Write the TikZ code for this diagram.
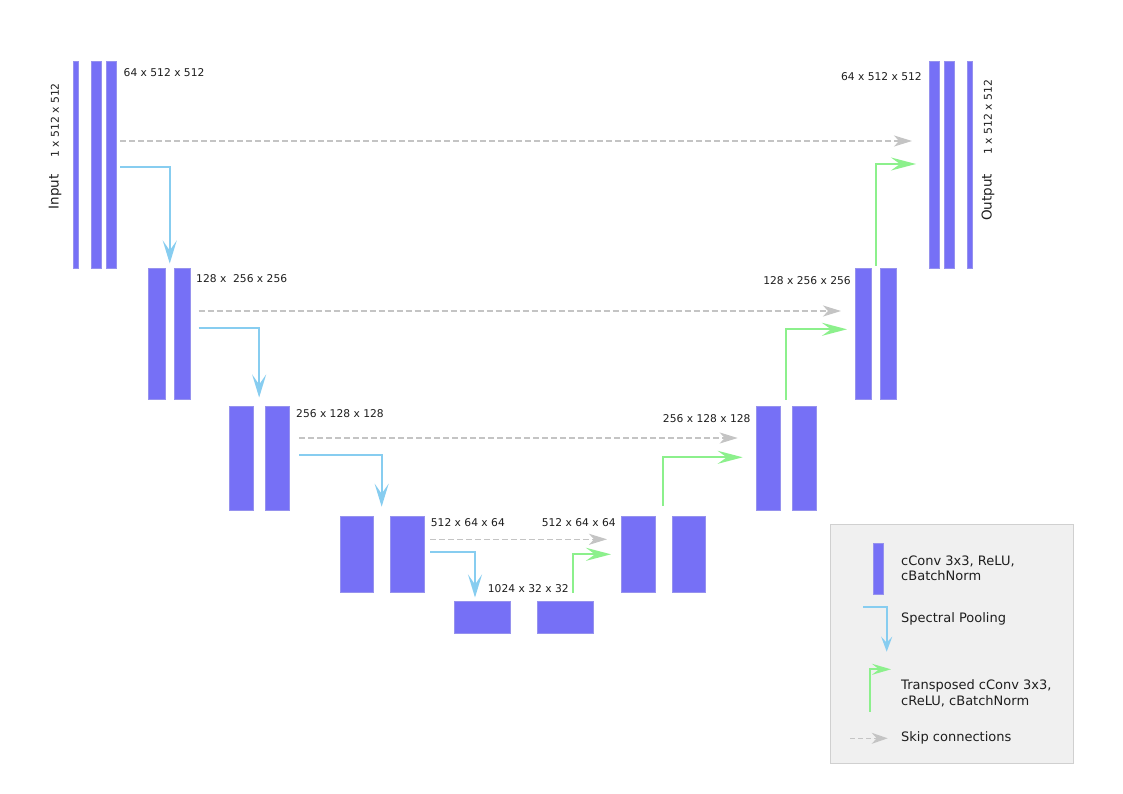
\documentclass[tikz,border=0pt]{standalone}
\usepackage{fontspec}
\setmainfont{DejaVu Sans}
\usetikzlibrary{arrows.meta,calc}
\definecolor{barc}{RGB}{118,112,246}
\definecolor{barline}{RGB}{150,146,238}
\definecolor{poolc}{RGB}{135,205,240}
\definecolor{upc}{RGB}{140,240,140}
\definecolor{skipc}{RGB}{196,196,196}
\definecolor{legfill}{RGB}{240,240,240}
\definecolor{legline}{RGB}{208,208,208}
\definecolor{txt}{RGB}{30,30,30}
\begin{document}
\begin{tikzpicture}[x=1pt,y=-1pt,
  bar/.style={fill=barc, draw=barline, line width=0.4pt, inner sep=0pt, outer sep=0pt},
  dimlabel/.style={font=\fontsize{10.7}{13}\selectfont, inner sep=0pt, text=txt},
  sidelabel/.style={font=\fontsize{13.5}{16}\selectfont, inner sep=0pt, text=txt, rotate=90},
  sidedim/.style={font=\fontsize{10.8}{13}\selectfont, inner sep=0pt, text=txt, rotate=90},
  legtext/.style={font=\fontsize{13}{16}\selectfont, inner sep=0pt, text=txt, anchor=west, align=left},
  pool/.style={color=poolc, line width=2pt, -{Stealth[length=23pt,width=14pt,inset=10pt]}},
  upconv/.style={color=upc, line width=2pt, -{Stealth[length=25pt,width=13pt,inset=9pt]}},
  skip/.style={color=skipc, line width=1.6pt, dash pattern=on 6pt off 3pt, -{Stealth[length=18pt,width=11pt,inset=5pt]}},
  poolS/.style={color=poolc, line width=1.8pt, -{Stealth[length=15pt,width=11pt,inset=6pt]}},
  upconvS/.style={color=upc, line width=1.8pt, -{Stealth[length=19pt,width=11pt,inset=7pt]}},
  skipS/.style={color=skipc, line width=1.5pt, dash pattern=on 5pt off 3pt, -{Stealth[length=16pt,width=11pt,inset=5pt]}}
]
\useasboundingbox[fill=white] (0,0) rectangle (1123,794);

% ---- level 1 ----
\node[bar, minimum width=5.5pt, minimum height=207pt] (L1a) at (75.75,164.5) {};
\node[bar, minimum width=10.3pt, minimum height=207pt] (L1b) at (96.2,164.5) {};
\node[bar, minimum width=10.3pt, minimum height=207pt] (L1c) at (111.2,164.5) {};
\node[bar, minimum width=10pt, minimum height=207pt] (R1a) at (934,164.5) {};
\node[bar, minimum width=10pt, minimum height=207pt] (R1b) at (949,164.5) {};
\node[bar, minimum width=5.6pt, minimum height=207pt] (R1c) at (969.5,164.5) {};
% ---- level 2 ----
\node[bar, minimum width=17pt, minimum height=131pt] (L2a) at (157,334) {};
\node[bar, minimum width=16.5pt, minimum height=131pt] (L2b) at (182.25,334) {};
\node[bar, minimum width=16pt, minimum height=131pt] (R2a) at (863,334) {};
\node[bar, minimum width=16pt, minimum height=131pt] (R2b) at (888,334) {};
% ---- level 3 ----
\node[bar, minimum width=24pt, minimum height=104pt] (L3a) at (241.3,458.5) {};
\node[bar, minimum width=24pt, minimum height=104pt] (L3b) at (277,458.5) {};
\node[bar, minimum width=24.3pt, minimum height=104pt] (R3a) at (767.85,458.5) {};
\node[bar, minimum width=24pt, minimum height=104pt] (R3b) at (803.7,458.5) {};
% ---- level 4 ----
\node[bar, minimum width=33.3pt, minimum height=76.6pt] (L4a) at (356.65,554) {};
\node[bar, minimum width=34pt, minimum height=76.6pt] (L4b) at (407,554) {};
\node[bar, minimum width=34pt, minimum height=76.6pt] (R4a) at (638,554) {};
\node[bar, minimum width=33.3pt, minimum height=76.6pt] (R4b) at (688.35,554) {};
% ---- bottom ----
\node[bar, minimum width=55.7pt, minimum height=31.7pt] (B1) at (482.15,616.85) {};
\node[bar, minimum width=55.4pt, minimum height=31.7pt] (B2) at (565,616.85) {};

% ---- labels ----
\node[sidelabel] (inlab) at (55,192) {Input};
\node[sidedim] (indim) at (55,120.5) {1 x 512 x 512};
\node[sidelabel] (outlab) at (988,197.5) {Output};
\node[sidedim] (outdim) at (988,117) {1 x 512 x 512};
\node[dimlabel, anchor=west] (d1l) at (123.5,72.7) {64 x 512 x 512};
\node[dimlabel, anchor=east] (d1r) at (922,76.5) {64 x 512 x 512};
\node[dimlabel, anchor=west] (d2l) at (196,279) {128 x \ 256 x 256};
\node[dimlabel, anchor=east] (d2r) at (851,280.7) {128 x 256 x 256};
\node[dimlabel, anchor=west] (d3l) at (296,413.5) {256 x 128 x 128};
\node[dimlabel, anchor=east] (d3r) at (750.7,419) {256 x 128 x 128};
\node[dimlabel, anchor=west] (d4l) at (430.7,522.3) {512 x 64 x 64};
\node[dimlabel, anchor=east] (d4r) at (616,522.3) {512 x 64 x 64};
\node[dimlabel, anchor=west] (d5) at (487.7,589) {1024 x 32 x 32};

% ---- skip connections ----
\draw[skip] ($(L1c.east |- 0,141)+(4,0)$) -- ($(R1a.west |- 0,141)+(-17,0)$);
\draw[skip] ($(L2b.east |- 0,311)+(8,0)$) -- ($(R2a.west |- 0,311)+(-14,0)$);
\draw[skip] ($(L3b.east |- 0,438)+(10,0)$) -- ($(R3a.west |- 0,438)+(-18,0)$);
\draw[skip] ($(L4b.east |- 0,539.3)+(6,0)$) -- ($(R4a.west |- 0,539.3)+(-14,0)$);

% ---- spectral pooling ----
\draw[pool] ($(L1c.east |- 0,167)+(4,0)$) -| ($(L2a.north east)!0.5!(L2b.north west)+(0,-5)$);
\draw[pool] ($(L2b.east |- 0,327.7)+(8,0)$) -| ($(L3a.north east)!0.5!(L3b.north west)+(0,-9)$);
\draw[pool] ($(L3b.east |- 0,455)+(10,0)$) -| ($(L4a.north east)!0.5!(L4b.north west)+(0,-9)$);
\draw[pool] ($(L4b.east |- 0,552.3)+(6,0)$) -| ($(B1.north west)+(20.7,-3.5)$);

% ---- transposed conv ----
\draw[upconv] ($(R2a.north east)!0.5!(R2b.north west)+(0,-3)$) |- ($(R1a.west |- 0,164)+(-13,0)$);
\draw[upconv] ($(R3a.north east)!0.5!(R3b.north west)+(0,-7)$) |- ($(R2a.west |- 0,329.3)+(-8,0)$);
\draw[upconv] ($(R4a.north east)!0.5!(R4b.north west)+(0,-10)$) |- ($(R3a.west |- 0,457.3)+(-13,0)$);
\draw[upconv] ($(B2.north west)+(36,-8.3)$) |- ($(R4a.west |- 0,554.3)+(-10,0)$);

% ---- legend ----
\node[draw=legline, fill=legfill, line width=0.8pt, minimum width=243pt, minimum height=239pt, anchor=north west, inner sep=0pt] (leg) at (830,524) {};
\node[bar, minimum width=10pt, minimum height=50.7pt] (legbar) at (877.7,568.65) {};
\node[legtext] (lt1) at (901,568.5) {cConv 3x3, ReLU,\\[-0.5pt]cBatchNorm};
\coordinate (lp0) at (863,606.7);
\coordinate (lp1) at (886.7,651.7);
\draw[poolS] (lp0) -| (lp1);
\node[legtext] (lt2) at (901,619) {Spectral Pooling};
\coordinate (lu0) at (870,711.7);
\coordinate (lu1) at (891,669.3);
\draw[upconvS] (lu0) |- (lu1);
\node[legtext] (lt3) at (901,693) {Transposed cConv 3x3,\\cReLU, cBatchNorm};
\coordinate (ls0) at (850,738.3);
\coordinate (ls1) at (887.7,738.3);
\draw[skipS] (ls0) -- (ls1);
\node[legtext] (lt4) at (901,738) {Skip connections};
\end{tikzpicture}
\end{document}
